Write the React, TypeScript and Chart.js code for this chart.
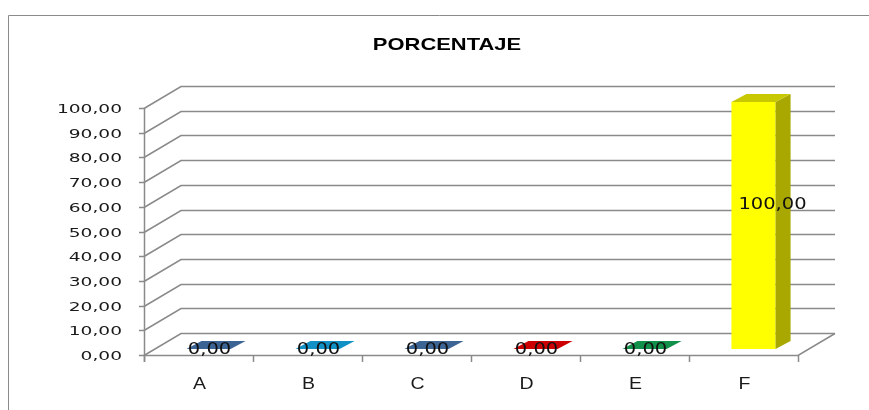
import React, { useEffect, useRef } from "react";
import { Chart, registerables } from "chart.js";

Chart.register(...registerables);

const categories = ["A", "B", "C", "D", "E", "F"];
const values = [0, 0, 0, 0, 0, 100];
const yTickValues = [0, 10, 20, 30, 40, 50, 60, 70, 80, 90, 100];
const titleText = "PORCENTAJE";

const frontColors = ["#4A76AA", "#1AA0D8", "#4A76AA", "#D80000", "#10A050", "#FFFF00"];
const topColors = ["#3B6495", "#1090C5", "#3C6594", "#CC0000", "#109048", "#C8C800"];
const sideColors = ["#2E5080", "#0C78A8", "#2E5080", "#A00000", "#0C7038", "#A8A800"];

const fmt = (v: number) => v.toFixed(2).replace(".", ",");

// depth of the walls, bar placement in depth
const DX = 37, DY = -22;
const BX = 10, BY = -6;
const BDX = 15, BDY = -8;
const GRID = "#8a8a8a";

function stretchedText(ctx: CanvasRenderingContext2D, text: string, x: number, y: number, font: string, sx: number, align: CanvasTextAlign, color: string) {
  ctx.save();
  ctx.translate(x, y);
  ctx.scale(sx, 1);
  ctx.font = font;
  ctx.fillStyle = color;
  ctx.textAlign = align;
  ctx.textBaseline = "middle";
  ctx.fillText(text, 0, 0);
  ctx.restore();
}

const excel3d = {
  id: "excel3d",
  beforeDatasetsDraw(chart: any) {
    const ctx: CanvasRenderingContext2D = chart.ctx;
    const { left, right, bottom } = chart.chartArea;
    const y = chart.scales.y;
    const x = chart.scales.x;
    ctx.save();
    // outer frame
    ctx.strokeStyle = "#8a8a8a";
    ctx.lineWidth = 1;
    ctx.beginPath();
    ctx.moveTo(8.5, 430);
    ctx.lineTo(8.5, 15.5);
    ctx.lineTo(880, 15.5);
    ctx.stroke();

    // title
    stretchedText(ctx, titleText, 447, 45, "bold 17px 'Liberation Sans', Arial, sans-serif", 1.29, "center", "#000");

    // gridlines (3D walls)
    ctx.strokeStyle = GRID;
    ctx.lineWidth = 1.5;
    yTickValues.forEach((v) => {
      const yf = Math.round(y.getPixelForValue(v)) + 0.5;
      ctx.beginPath();
      ctx.moveTo(left, yf);
      ctx.lineTo(left + DX, yf + DY);
      ctx.lineTo(right + DX, yf + DY);
      ctx.stroke();
      if (v === 0) {
        ctx.beginPath();
        ctx.moveTo(left, yf);
        ctx.lineTo(right, yf);
        ctx.lineTo(right + DX, yf + DY);
        ctx.stroke();
      }
      // y tick mark
      ctx.beginPath();
      ctx.moveTo(left - 5, yf);
      ctx.lineTo(left, yf);
      ctx.stroke();
      stretchedText(ctx, fmt(v), left - 22, yf + 1, "12px 'DejaVu Sans', sans-serif", 1.55, "right", "#1a1a1a");
    });
    // vertical axis
    const top = Math.round(y.getPixelForValue(100));
    ctx.beginPath();
    ctx.moveTo(left + 0.5, top);
    ctx.lineTo(left + 0.5, bottom + 7);
    ctx.stroke();
    // category ticks
    const n = categories.length;
    const cw = (right - left) / n;
    for (let i = 0; i <= n; i++) {
      const xx = Math.round(left + i * cw) + 0.5;
      ctx.beginPath();
      ctx.moveTo(xx, bottom);
      ctx.lineTo(xx, bottom + 7);
      ctx.stroke();
    }
    categories.forEach((c, i) => {
      stretchedText(ctx, c, x.getPixelForValue(i) + 1, bottom + 30, "16px 'Liberation Sans', Arial, sans-serif", 1.22, "center", "#1a1a1a");
    });
    ctx.restore();
  },
  afterDatasetsDraw(chart: any) {
    const ctx: CanvasRenderingContext2D = chart.ctx;
    const meta = chart.getDatasetMeta(0);
    ctx.save();
    meta.data.forEach((el: any, i: number) => {
      const w = el.width;
      const x0 = el.x - w / 2 + BX;
      const x1 = el.x + w / 2 + BX;
      const yT = el.y + BY;
      const yB = el.base + BY;
      // front
      if (yB - yT > 0.5) {
        ctx.fillStyle = frontColors[i];
        ctx.fillRect(x0, yT, x1 - x0, yB - yT);
        // side
        ctx.fillStyle = sideColors[i];
        ctx.beginPath();
        ctx.moveTo(x1, yT);
        ctx.lineTo(x1 + BDX, yT + BDY);
        ctx.lineTo(x1 + BDX, yB + BDY);
        ctx.lineTo(x1, yB);
        ctx.closePath();
        ctx.fill();
      }
      // top
      ctx.fillStyle = topColors[i];
      ctx.beginPath();
      ctx.moveTo(x0, yT);
      ctx.lineTo(x1, yT);
      ctx.lineTo(x1 + BDX, yT + BDY);
      ctx.lineTo(x0 + BDX, yT + BDY);
      ctx.closePath();
      ctx.fill();
    });
    // data labels
    meta.data.forEach((el: any, i: number) => {
      const cx = el.x + BX;
      const yT = el.y + BY;
      const yB = el.base + BY;
      const v = values[i];
      const font = "15px 'DejaVu Sans', sans-serif";
      if (v > 0) {
        stretchedText(ctx, fmt(v), cx + 19, (yT + yB) / 2 - 20, font, 1.3, "center", "#111");
      } else {
        stretchedText(ctx, fmt(v), cx + 1, yB + 1, font, 1.3, "center", "#111");
      }
    });
    ctx.restore();
  },
};

export default function App() {
  const ref = useRef<HTMLCanvasElement | null>(null);
  useEffect(() => {
    if (!ref.current) return;
    const chart = new Chart(ref.current, {
      type: "bar",
      data: {
        labels: categories,
        datasets: [
          {
            label: titleText,
            data: values,
            backgroundColor: "rgba(0,0,0,0)",
            borderWidth: 0,
            categoryPercentage: 1,
            barPercentage: 0.405,
          },
        ],
      },
      options: {
        responsive: false,
        animation: false,
        devicePixelRatio: 1,
        layout: { padding: { left: 144, right: 71, top: 108, bottom: 55 } },
        plugins: {
          legend: { display: false },
          title: { display: false },
          tooltip: { enabled: false },
        },
        scales: {
          x: { display: false },
          y: { display: false, min: 0, max: 100 },
        },
      },
      plugins: [excel3d],
    });
    return () => chart.destroy();
  }, []);
  return (
    <div style={{ position: "absolute", left: 0, top: 0, width: 869, height: 410, background: "#fff" }}>
      <canvas ref={ref} width={869} height={410} style={{ display: "block" }} />
    </div>
  );
}
